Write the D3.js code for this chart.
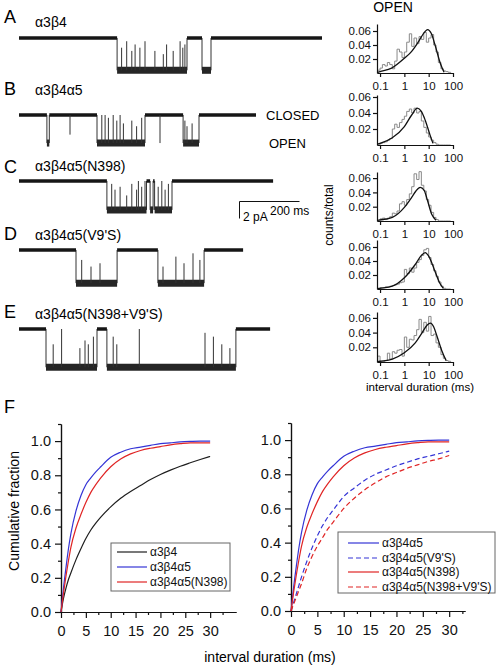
<!DOCTYPE html>
<html><head><meta charset="utf-8">
<script src="https://cdn.jsdelivr.net/npm/d3@7"></script>
<style>body{margin:0;background:#fff}svg{display:block;font-family:"Liberation Sans",Arial,sans-serif}</style>
</head><body><svg id="c" width="496" height="666"></svg>
<script>
// ---------------- DATA ----------------
// Single-channel traces (A–E): names, durations (ms), amplitudes (pA)
const traceNames = ["α3β4", "α3β4α5", "α3β4α5(N398)", "α3β4α5(V9'S)", "α3β4α5(N398+V9'S)"];
const traceLetters = ["A", "B", "C", "D", "E"];
const traceDuration = [1010, 790, 847, 747, 837];
const traceAmp = [3.8, 3.3, 3.4, 3.9, 4.5];
// open periods [start ms, end ms]
const openA = [[327, 560], [610, 640]];
const openB = [[93, 101], [260, 420], [547, 600]];
const openC = [[293, 425], [437, 447], [452, 510]];
const openD = [[190, 327], [463, 617]];
const openE = [[90, 260], [293, 723]];
// brief transitions [time ms, fraction of full amplitude]
const spikesA = [[342,0.7],[359,0.9],[376,0.6],[387,0.8],[403,0.7],[420,0.9],[453,0.6],[481,0.5],[492,0.8],[514,0.6],[537,0.9],[546,0.7],[553,0.8]];
const spikesB = [[170,0.7],[276,1],[287,1],[298,0.9],[314,1],[326,0.8],[337,1],[348,0.7],[376,0.8],[392,0.6],[409,0.9],[470,1],[553,0.8],[560,0.6],[577,0.7]];
const spikesC = [[309,0.9],[320,0.7],[337,0.8],[359,0.5],[376,0.9],[392,0.7],[398,1],[409,0.8],[420,1],[464,0.8],[476,1],[487,0.7],[498,0.9]];
const spikesD = [[209,0.7],[240,0.5],[270,0.6],[480,0.5],[523,0.8],[550,0.6],[580,0.9],[603,0.7]];
const spikesE = [[114,0.6],[142,1],[203,0.5],[220,0.7],[231,0.6],[248,0.8],[314,0.8],[326,0.6],[401,1],[620,0.9],[648,0.8],[676,0.6],[703,0.5]];
const scaleBarMs = 200, scaleBarPA = 2;

// Open-time histograms (log bins, counts/total)
const histEdges = [0.08,0.1,0.125,0.16,0.2,0.25,0.32,0.4,0.5,0.63,0.8,1,1.25,1.6,2,2.5,3.2,4,5,6.3,8,10,12.5,16,20,25,32,40,50,63,80];
const histA = [0.004,0.007,0.012,0.01,0.015,0.012,0.006,0.017,0.034,0.03,0.022,0.03,0.044,0.056,0.038,0.05,0.042,0.052,0.048,0.058,0.044,0.05,0.055,0.04,0.03,0.015,0.006,0.003,0.002,0.001];
const histB = [0,0.002,0.003,0.004,0.006,0.008,0.02,0.026,0.022,0.028,0.032,0.036,0.042,0.045,0.04,0.046,0.04,0.042,0.03,0.022,0.015,0.01,0.006,0.003,0.001,0,0,0,0,0];
const histC = [0,0.003,0.004,0.002,0.004,0.006,0.011,0.01,0.014,0.024,0.027,0.022,0.03,0.038,0.048,0.066,0.058,0.069,0.05,0.042,0.03,0.022,0.012,0.005,0.002,0,0,0,0,0];
const histD = [0.001,0.002,0.002,0.003,0.003,0.004,0.005,0.006,0.007,0.009,0.01,0.028,0.022,0.03,0.024,0.03,0.038,0.042,0.048,0.056,0.058,0.045,0.035,0.026,0.018,0.01,0.004,0.001,0,0];
const histE = [0.008,0.001,0.001,0.002,0.012,0.004,0.014,0.012,0.016,0.017,0.008,0.034,0.02,0.031,0.03,0.036,0.044,0.058,0.04,0.054,0.042,0.062,0.036,0.038,0.026,0.02,0.01,0.005,0.002,0.001];
// fitted curves [duration ms, counts/total]
const fitA = [[0.08,0.001],[0.1,0.002],[0.3,0.007],[1,0.021],[2,0.031],[4,0.046],[6,0.056],[9,0.062],[13,0.056],[19,0.038],[30,0.014],[43,0.001]];
const fitB = [[0.08,0.001],[0.1,0.002],[0.32,0.009],[1,0.023],[2,0.0375],[3.4,0.046],[5,0.042],[7.2,0.031],[11.5,0.012],[15,0.002]];
const fitC = [[0.08,0.001],[0.1,0.0015],[0.32,0.005],[1,0.019],[2,0.033],[3,0.042],[4.5,0.047],[6.5,0.043],[8.7,0.03],[13.5,0.009],[20,0.001]];
const fitD = [[0.08,0.0005],[0.1,0.001],[0.32,0.004],[1,0.016],[2.8,0.035],[5,0.048],[7.2,0.052],[10,0.047],[17,0.028],[28,0.009],[40,0.001]];
const fitE = [[0.08,0.0005],[0.1,0.001],[0.32,0.004],[1,0.0125],[2.8,0.026],[5.4,0.04],[8.5,0.05],[11.8,0.053],[16,0.048],[22,0.035],[35,0.015],[52,0.002]];
const histYTicks = [0.02, 0.04, 0.06];
const histXTicks = [0.1, 1, 10, 100];
const histXTickLabels = ["0.1", "1", "10", "100"];

// Cumulative open-time distributions (F)
const cumX = [0,0.5,1,1.5,2,3,4,5,6,7,8,10,12,14,16,18,20,22,24,26,28,30];
const cumA34 = [0,0.08,0.14,0.19,0.23,0.305,0.37,0.43,0.48,0.52,0.555,0.615,0.665,0.705,0.74,0.775,0.805,0.83,0.853,0.873,0.892,0.91];
const cumA345 = [0,0.14,0.26,0.37,0.46,0.59,0.68,0.745,0.785,0.82,0.85,0.905,0.935,0.955,0.965,0.975,0.985,0.99,0.995,0.998,1,1];
const cumN398 = [0,0.11,0.21,0.3,0.38,0.49,0.57,0.64,0.70,0.745,0.785,0.85,0.895,0.925,0.945,0.958,0.968,0.978,0.985,0.99,0.99,0.99];
const cumV9S = [0,0.05,0.1,0.15,0.2,0.29,0.37,0.44,0.5,0.55,0.59,0.67,0.72,0.765,0.8,0.825,0.85,0.87,0.89,0.905,0.92,0.935];
const cumN398V9S = [0,0.04,0.08,0.12,0.16,0.25,0.32,0.38,0.43,0.48,0.52,0.6,0.66,0.71,0.75,0.785,0.81,0.835,0.855,0.875,0.89,0.91];
const cumYTicks = [0, 0.2, 0.4, 0.6, 0.8, 1.0];
const cumXTicks = [0, 5, 10, 15, 20, 25, 30];

// ---------------- DRAWING ----------------
const svg = d3.select("#c");
const FONT = '"Liberation Sans", Arial, sans-serif';
const BLUE = "#3434d6", RED = "#e02424", BLACK = "#1e1e1e";

// ---- traces ----
const traceOpen = [openA, openB, openC, openD, openE];
const traceSpikes = [spikesA, spikesB, spikesC, spikesD, spikesE];
const traceBase = [38, 115, 181, 250, 329];
const labelBase = [27, 95, 171, 240, 319];
const letterBase = [23, 95, 173, 240, 318];
const tx = d3.scaleLinear().domain([0, 1000]).range([19, 319]);
const pxPerPA = 8.5;

traceNames.forEach((name, i) => {
  const g = svg.append("g");
  const ty = d3.scaleLinear().domain([0, -10]).range([traceBase[i], traceBase[i] + 10 * pxPerPA]);
  const amp = traceAmp[i], dur = traceDuration[i];
  const segs = []; let t = 0;
  traceOpen[i].forEach(([a, b]) => {
    if (a > t) segs.push({ a: t, b: a, open: false });
    segs.push({ a, b, open: true }); t = b;
  });
  if (t < dur) segs.push({ a: t, b: dur, open: false });
  traceOpen[i].forEach(([a, b]) => {
    [a, b].forEach(v => g.append("line").attr("x1", tx(v)).attr("x2", tx(v))
      .attr("y1", ty(0)).attr("y2", ty(-amp)).attr("stroke", "#333").attr("stroke-width", 1));
  });
  g.selectAll("line.lvl").data(segs).join("line").attr("class", "lvl")
    .attr("x1", d => tx(d.a)).attr("x2", d => tx(d.b))
    .attr("y1", d => ty(d.open ? -amp : 0)).attr("y2", d => ty(d.open ? -amp : 0))
    .attr("stroke", d => d.open ? "#262626" : "#161616")
    .attr("stroke-width", d => d.open ? 7 : 3.5);
  traceSpikes[i].forEach(([s, f]) => {
    const seg = segs.find(d => s >= d.a && s <= d.b);
    const lvl = seg && seg.open ? -amp : 0;
    const other = seg && seg.open ? 0 : -amp;
    g.append("line").attr("x1", tx(s)).attr("x2", tx(s))
      .attr("y1", ty(lvl)).attr("y2", ty(lvl + (other - lvl) * f))
      .attr("stroke", "#333").attr("stroke-width", 1);
  });
  svg.append("text").attr("x", 4).attr("y", letterBase[i]).attr("font-size", 18).text(traceLetters[i]);
  svg.append("text").attr("x", 35).attr("y", labelBase[i]).attr("font-size", 14).text(name);
});
svg.append("text").attr("x", 266).attr("y", 120).attr("font-size", 13).text("CLOSED");
svg.append("text").attr("x", 269).attr("y", 148).attr("font-size", 13).text("OPEN");

// scale bar
{
  const sx0 = 239.5, sy0 = 201.5;
  const barW = tx(scaleBarMs) - tx(0), barH = scaleBarPA * pxPerPA;
  svg.append("path").attr("d", `M${sx0},${sy0 + barH}V${sy0}H${sx0 + barW}`)
    .attr("fill", "none").attr("stroke", "#111").attr("stroke-width", 1);
  svg.append("text").attr("x", 243).attr("y", 221).attr("font-size", 12).text(scaleBarPA + " pA");
  svg.append("text").attr("x", 270).attr("y", 215).attr("font-size", 12).text(scaleBarMs + " ms");
}

// ---- histograms ----
const hists = [histA, histB, histC, histD, histE];
const fits = [fitA, fitB, fitC, fitD, fitE];
const histZero = [73, 145, 221, 289, 362];
const histPx02 = [14, 16, 14.3, 14, 14.7];
const histTop = [24, 95, 172, 240, 312];
const hx = d3.scaleLog().domain([0.075, 100]).range([377, 453]);
hists.forEach((h, i) => {
  const topVal = (histZero[i] - histTop[i]) / histPx02[i] * 0.02;
  const hy = d3.scaleLinear().domain([0, topVal]).range([histZero[i], histTop[i]]);
  const g = svg.append("g");
  const pts = [[histEdges[0], 0]];
  h.forEach((v, k) => { pts.push([histEdges[k], v]); pts.push([histEdges[k + 1], v]); });
  pts.push([histEdges[histEdges.length - 1], 0]);
  g.append("path").attr("d", d3.line().x(d => hx(d[0])).y(d => hy(d[1]))(pts))
    .attr("fill", "none").attr("stroke", "#8a8a8a").attr("stroke-width", 1);
  g.append("path").attr("d", d3.line().x(d => hx(d[0])).y(d => hy(d[1])).curve(d3.curveMonotoneX)(fits[i]))
    .attr("fill", "none").attr("stroke", "#111").attr("stroke-width", 1.3);
  const ya = g.append("g").attr("transform", `translate(377,0)`)
    .call(d3.axisLeft(hy).tickValues(histYTicks).tickSize(4).tickSizeOuter(0).tickPadding(2).tickFormat(d3.format(".2f")));
  const xa = g.append("g").attr("transform", `translate(0,${histZero[i]})`)
    .call(d3.axisBottom(hx).tickValues(histXTicks).tickSize(4).tickSizeOuter(0).tickPadding(5)
      .tickFormat((d, k) => histXTickLabels[k]));
  [ya, xa].forEach(a => {
    a.selectAll("text").attr("font-size", 11.5).attr("font-family", FONT).attr("fill", "#111");
    a.selectAll("line,path").attr("stroke", "#111").attr("stroke-width", 1.2);
  });
});
svg.append("text").attr("x", 393).attr("y", 12).attr("text-anchor", "middle").attr("font-size", 14).text("OPEN");
svg.append("text").attr("transform", "translate(333,215) rotate(-90)").attr("text-anchor", "middle")
  .attr("font-size", 12).text("counts/total");
svg.append("text").attr("x", 420).attr("y", 391).attr("text-anchor", "middle").attr("font-size", 11.5)
  .text("interval duration (ms)");

// ---- cumulative plots ----
svg.append("text").attr("x", 4).attr("y", 413).attr("font-size", 18).text("F");
function cumPanel(cfg) {
  const x = d3.scaleLinear().domain([0, cfg.xMax]).range([cfg.x0, cfg.x1]);
  const y = d3.scaleLinear().domain([0, 1.1]).range([cfg.y0, cfg.y1]);
  const g = svg.append("g");
  const minorY = d3.range(0.1, 1.15, 0.2);
  const minorX = d3.range(2.5, 35, 5);
  g.append("g").attr("transform", `translate(${cfg.x0},0)`)
    .call(d3.axisLeft(y).tickValues(minorY).tickSize(3).tickSizeOuter(0).tickFormat(""));
  g.append("g").attr("transform", `translate(0,${cfg.y0})`)
    .call(d3.axisBottom(x).tickValues(minorX).tickSize(3).tickSizeOuter(0).tickFormat(""));
  g.append("g").attr("transform", `translate(${cfg.x0},0)`)
    .call(d3.axisLeft(y).tickValues(cumYTicks).tickSize(6).tickSizeOuter(0).tickPadding(4).tickFormat(d3.format(".1f")));
  g.append("g").attr("transform", `translate(0,${cfg.y0})`)
    .call(d3.axisBottom(x).tickValues(cumXTicks).tickSize(6).tickSizeOuter(0).tickPadding(8).tickFormat(d3.format("d")));
  g.selectAll(".tick text").attr("font-size", 14.5).attr("font-family", FONT).attr("fill", "#111");
  g.selectAll("line,path").attr("stroke", "#111").attr("stroke-width", 1.2);
  const line = d3.line().x((d, k) => x(cumX[k])).y(d => y(d)).curve(d3.curveMonotoneX);
  cfg.series.forEach(s => {
    g.append("path").attr("d", line(s.v)).attr("fill", "none").attr("stroke", s.c)
      .attr("stroke-width", 1.2).attr("stroke-dasharray", s.dash ? "5,3" : null);
  });
  const L = cfg.legend;
  g.append("rect").attr("x", L.x).attr("y", L.y).attr("width", L.w).attr("height", L.h)
    .attr("fill", "#fff").attr("stroke", "#666").attr("stroke-width", 1);
  cfg.series.forEach((s, k) => {
    const yy = L.rows[k];
    g.append("line").attr("x1", L.lx0).attr("x2", L.lx1).attr("y1", yy).attr("y2", yy)
      .attr("stroke", s.c).attr("stroke-width", 1.2).attr("stroke-dasharray", s.dash ? "5,3" : null);
    g.append("text").attr("x", L.lx1 + 3).attr("y", yy + 4).attr("font-size", 12).attr("fill", "#111").text(s.name);
  });
}
cumPanel({
  xMax: 35.2, x0: 61, x1: 236, y0: 612, y1: 424,
  series: [
    { name: "α3β4", v: cumA34, c: BLACK },
    { name: "α3β4α5", v: cumA345, c: BLUE },
    { name: "α3β4α5(N398)", v: cumN398, c: RED }
  ],
  legend: { x: 111, y: 543, w: 119, h: 48, lx0: 117, lx1: 147, rows: [552, 567, 582] }
});
cumPanel({
  xMax: 33, x0: 291, x1: 465, y0: 611, y1: 423,
  series: [
    { name: "α3β4α5", v: cumA345, c: BLUE },
    { name: "α3β4α5(V9'S)", v: cumV9S, c: BLUE, dash: true },
    { name: "α3β4α5(N398)", v: cumN398, c: RED },
    { name: "α3β4α5(N398+V9'S)", v: cumN398V9S, c: RED, dash: true }
  ],
  legend: { x: 338, y: 532, w: 157, h: 61, lx0: 348, lx1: 379, rows: [543, 558, 572, 587] }
});
svg.append("text").attr("transform", "translate(19,511) rotate(-90)").attr("text-anchor", "middle")
  .attr("font-size", 14).text("Cumulative fraction");
svg.append("text").attr("x", 270).attr("y", 662).attr("text-anchor", "middle").attr("font-size", 14)
  .text("interval duration (ms)");
</script></body></html>
